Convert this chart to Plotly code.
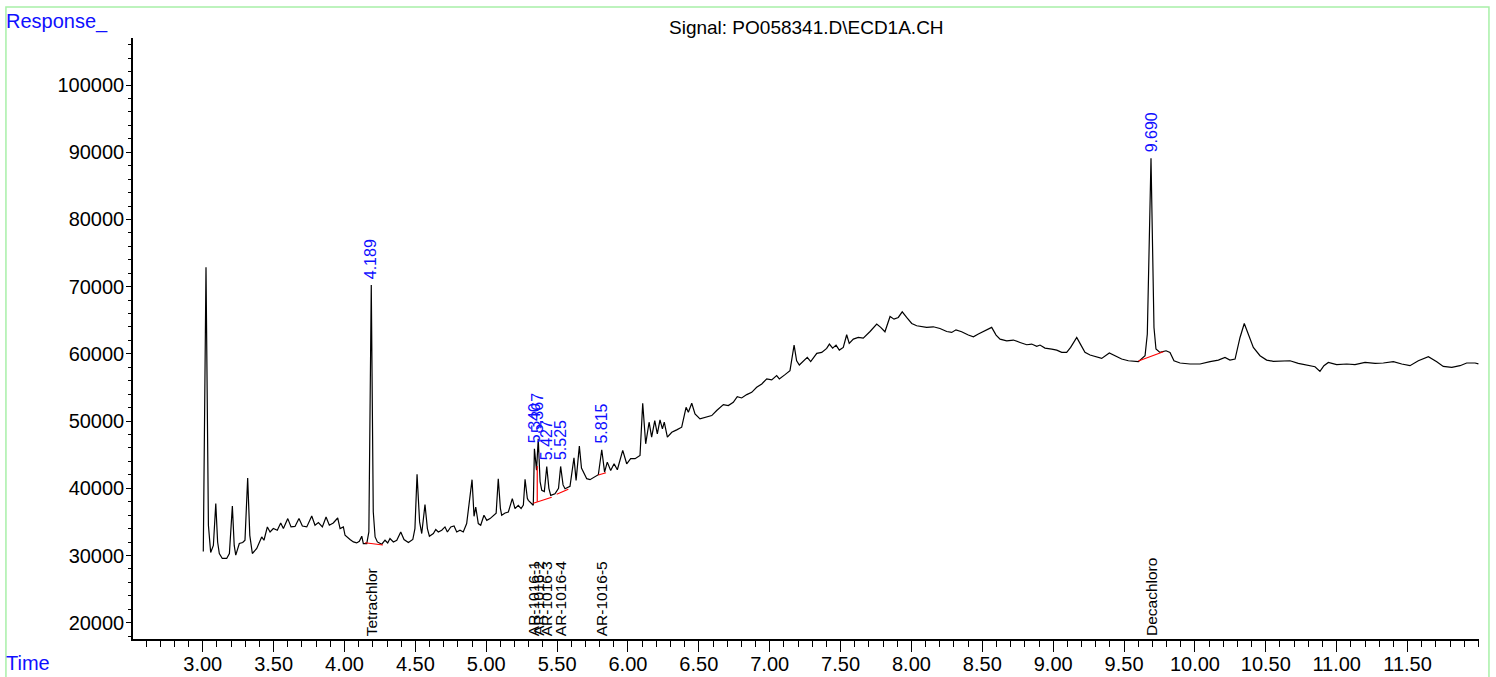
import plotly.graph_objects as go

# ---- data ----
time_min = [
    3.004, 3.023, 3.040, 3.056, 3.075, 3.092, 3.105, 3.117, 3.138, 3.169, 3.188, 3.209, 3.222, 3.233,
    3.258, 3.282, 3.298, 3.317, 3.332, 3.350, 3.381, 3.416, 3.432, 3.456, 3.475, 3.498, 3.526, 3.550,
    3.569, 3.600, 3.623, 3.651, 3.679, 3.703, 3.734, 3.769, 3.792, 3.816, 3.844, 3.870, 3.893, 3.921,
    3.952, 3.969, 3.992, 4.004, 4.039, 4.063, 4.086, 4.105, 4.122, 4.133, 4.157, 4.172, 4.189, 4.203,
    4.216, 4.232, 4.263, 4.286, 4.305, 4.321, 4.345, 4.369, 4.397, 4.420, 4.451, 4.482, 4.497, 4.512,
    4.530, 4.545, 4.568, 4.585, 4.599, 4.627, 4.644, 4.662, 4.686, 4.709, 4.726, 4.750, 4.773, 4.792,
    4.815, 4.838, 4.862, 4.900, 4.914, 4.926, 4.944, 4.961, 4.984, 5.004, 5.027, 5.050, 5.070, 5.085,
    5.100, 5.109, 5.133, 5.156, 5.184, 5.203, 5.226, 5.246, 5.262, 5.274, 5.290, 5.297, 5.332, 5.340,
    5.355, 5.367, 5.380, 5.392, 5.410, 5.427, 5.442, 5.455, 5.485, 5.510, 5.525, 5.542, 5.556, 5.591,
    5.619, 5.634, 5.657, 5.672, 5.685, 5.709, 5.732, 5.760, 5.791, 5.815, 5.835, 5.854, 5.878, 5.902,
    5.925, 5.963, 5.991, 6.019, 6.050, 6.085, 6.104, 6.125, 6.149, 6.167, 6.189, 6.207, 6.226, 6.243,
    6.256, 6.278, 6.309, 6.344, 6.379, 6.410, 6.426, 6.450, 6.473, 6.508, 6.556, 6.591, 6.626, 6.673,
    6.708, 6.743, 6.771, 6.802, 6.838, 6.873, 6.908, 6.944, 6.979, 7.014, 7.049, 7.068, 7.108, 7.143,
    7.172, 7.190, 7.209, 7.237, 7.265, 7.289, 7.332, 7.367, 7.402, 7.421, 7.444, 7.468, 7.491, 7.519,
    7.543, 7.561, 7.590, 7.625, 7.660, 7.708, 7.755, 7.783, 7.813, 7.849, 7.877, 7.907, 7.935, 7.966,
    8.002, 8.037, 8.072, 8.107, 8.154, 8.201, 8.249, 8.284, 8.314, 8.354, 8.401, 8.437, 8.472, 8.519,
    8.566, 8.597, 8.625, 8.672, 8.719, 8.766, 8.813, 8.848, 8.884, 8.907, 8.942, 8.990, 9.025, 9.060,
    9.095, 9.123, 9.166, 9.189, 9.224, 9.260, 9.307, 9.342, 9.396, 9.436, 9.483, 9.530, 9.601, 9.648,
    9.664, 9.690, 9.711, 9.725, 9.753, 9.796, 9.824, 9.852, 9.895, 9.965, 10.036, 10.107, 10.165, 10.212,
    10.247, 10.283, 10.318, 10.348, 10.376, 10.412, 10.459, 10.506, 10.553, 10.612, 10.671, 10.729,
    10.800, 10.847, 10.882, 10.910, 10.941, 11.000, 11.071, 11.129, 11.200, 11.271, 11.329, 11.400,
    11.459, 11.517, 11.576, 11.647, 11.706, 11.752, 11.812, 11.870, 11.917, 11.976, 12.000,
]
response = [
    30600, 72900, 34500, 30450, 31500, 37720, 32000, 30300, 29560, 29560, 30300, 37360, 31500, 30050,
    31780, 31930, 32270, 41520, 33000, 30300, 31040, 32760, 32270, 34250, 33500, 34010, 33760, 34840,
    34010, 35490, 34250, 34320, 35490, 34390, 34250, 35880, 34500, 34900, 34250, 35730, 34500, 34840,
    35580, 34010, 34250, 33010, 32380, 32020, 31870, 32120, 32870, 31780, 31780, 33500, 70250, 36500,
    32760, 32020, 31680, 32270, 31870, 32520, 32020, 32270, 33500, 32380, 31930, 32380, 34000, 42070,
    35000, 33270, 37570, 34000, 32870, 33270, 33860, 33500, 33760, 34250, 33500, 34250, 34390, 33500,
    33760, 33500, 34750, 41280, 35830, 37210, 34750, 34500, 35980, 35230, 35490, 35980, 36300, 41430,
    37000, 35980, 36320, 36470, 38460, 36980, 37470, 36980, 37500, 41330, 38500, 38210, 37470, 45880,
    42700, 47370, 41000, 39690, 39500, 43250, 40000, 38950, 39190, 40000, 43250, 40500, 39940, 40290,
    44540, 41180, 46270, 43000, 42410, 41430, 41280, 41670, 42020, 45730, 42410, 43890, 42660, 43650,
    42760, 45630, 43650, 44400, 44400, 44890, 52650, 46620, 49830, 47600, 50080, 48110, 50180, 48850,
    49830, 47600, 48340, 48690, 49090, 52050, 51310, 52650, 51070, 50330, 50580, 50820, 51570, 52460,
    52310, 52800, 53640, 53440, 53940, 54280, 55020, 55530, 56270, 56120, 56760, 56270, 56910, 57500,
    61310, 58980, 58350, 58860, 59480, 58860, 60070, 60210, 60810, 61460, 60860, 61310, 60560, 60960,
    62850, 61560, 62200, 62440, 62340, 63330, 64430, 63940, 63290, 65560, 65170, 65420, 66260, 65420,
    64520, 64180, 64030, 63940, 64030, 63780, 63330, 63190, 63580, 63290, 62800, 62550, 62950, 63440,
    63940, 62800, 62200, 61950, 62060, 61700, 61360, 61460, 61110, 61310, 60860, 60710, 60560, 60220,
    60220, 60960, 62440, 61560, 60220, 59830, 59580, 59330, 60130, 59730, 59240, 58980, 58840, 59730,
    62950, 89100, 63930, 60720, 60220, 60460, 60220, 58980, 58640, 58490, 58490, 58840, 59080, 59470,
    59080, 59230, 62440, 64520, 62950, 60960, 59730, 59080, 58880, 58880, 58980, 58590,
    58240, 58090, 57400, 58240, 58730, 58390, 58490, 58390, 58730, 58590, 58640, 58840,
    58490, 58240, 58980, 59580, 58840, 58140, 57990, 58240, 58640, 58640, 58500,
]

# integrated peaks: retention time label and apex response
peak_rt_labels = ["4.189", "5.340", "5.367", "5.427", "5.525", "5.815", "9.690"]
peak_rt = [4.189, 5.340, 5.367, 5.427, 5.525, 5.815, 9.690]
peak_apex = [70250, 45880, 47370, 43250, 43250, 45730, 89100]

# compound names at the bottom
compound_names = ["Tetrachlor", "AR-1016-1", "AR-1016-2", "AR-1016-3", "AR-1016-4", "AR-1016-5", "Decachloro"]
compound_rt = [4.189, 5.335, 5.367, 5.427, 5.525, 5.815, 9.690]

# red integration baselines (start time, start resp, end time, end resp)
baseline_t0 = [4.145, 5.332, 5.497, 5.791, 9.601, 5.360]
baseline_r0 = [31900, 37770, 39110, 41980, 58940, 38000]
baseline_t1 = [4.271, 5.462, 5.579, 5.845, 9.777, 5.360]
baseline_r1 = [31560, 38660, 39850, 42320, 60320, 43300]

x_ticks = [3.0 + 0.5 * i for i in range(18)]
x_tick_labels = [f"{v:.2f}" for v in x_ticks]
y_ticks = [20000, 30000, 40000, 50000, 60000, 70000, 80000, 90000, 100000]
y_tick_labels = [str(v) for v in y_ticks]

title_text = "Signal: PO058341.D\\ECD1A.CH"

FONT = "Liberation Sans, Arial, sans-serif"
BLUE = "#1010ff"

fig = go.Figure()

fig.add_trace(go.Scatter(x=time_min, y=response, mode="lines",
                         line=dict(color="black", width=1.2), hoverinfo="skip",
                         showlegend=False))

for t0, r0, t1, r1 in zip(baseline_t0, baseline_r0, baseline_t1, baseline_r1):
    fig.add_trace(go.Scatter(x=[t0, t1], y=[r0, r1], mode="lines",
                             line=dict(color="#ff0000", width=1.2), hoverinfo="skip",
                             showlegend=False))

annotations = []
for lab, t, r in zip(peak_rt_labels, peak_rt, peak_apex):
    annotations.append(dict(x=t, y=r, xref="x", yref="y", text=lab, textangle=-90,
                            showarrow=False, xanchor="center", yanchor="bottom", yshift=4,
                            font=dict(family=FONT, size=16, color=BLUE)))
for name, t in zip(compound_names, compound_rt):
    annotations.append(dict(x=t, y=0, xref="x", yref="paper", text=name, textangle=-90,
                            showarrow=False, xanchor="center", yanchor="bottom", yshift=1,
                            font=dict(family=FONT, size=15.5, color="black")))

annotations.append(dict(x=0.5, y=1.018, xref="paper", yref="paper", text=title_text,
                        showarrow=False, xanchor="center", yanchor="middle",
                        font=dict(family=FONT, size=19, color="black")))
annotations.append(dict(x=-0.0958, y=1.05, xref="paper", yref="paper", text="Response_",
                        showarrow=False, xanchor="left", yanchor="top",
                        font=dict(family=FONT, size=20, color=BLUE)))
annotations.append(dict(x=-0.0958, y=-0.062, xref="paper", yref="paper", text="Time",
                        showarrow=False, xanchor="left", yanchor="bottom",
                        font=dict(family=FONT, size=20, color=BLUE)))

fig.update_layout(
    width=1496, height=677, autosize=False,
    margin=dict(l=133, r=17, t=38, b=38),
    paper_bgcolor="white", plot_bgcolor="white",
    showlegend=False,
    annotations=annotations,
    shapes=[dict(type="rect", xref="paper", yref="paper",
                 x0=-0.0944, x1=1.0074, y0=-0.2, y1=1.0516,
                 line=dict(color="#a8f0a8", width=1.5), fillcolor="rgba(0,0,0,0)",
                 layer="below")],
    xaxis=dict(range=[2.508, 12.004], showgrid=False, zeroline=False, automargin=False,
               showline=True, linecolor="black", linewidth=1.5,
               ticks="outside", ticklen=11, tickwidth=1, tickcolor="black",
               ticklabelstandoff=-5,
               tickvals=x_ticks, ticktext=x_tick_labels,
               tickfont=dict(family=FONT, size=20, color="black"),
               minor=dict(dtick=0.1, tick0=0, ticks="outside", ticklen=6,
                          tickwidth=1, tickcolor="black", showgrid=False)),
    yaxis=dict(range=[17575, 107000], showgrid=False, zeroline=False, automargin=False,
               showline=True, linecolor="black", linewidth=1.5,
               ticks="outside", ticklen=5, tickwidth=1, tickcolor="black",
               ticklabelstandoff=-2,
               tickvals=y_ticks, ticktext=y_tick_labels,
               tickfont=dict(family=FONT, size=20, color="black"),
               minor=dict(dtick=2000, tick0=0, ticks="outside", ticklen=3,
                          tickwidth=1, tickcolor="black", showgrid=False)),
)

post_js = (
    "document.documentElement.style.margin='0';"
    "document.body.style.margin='0';"
    "document.body.style.padding='0';"
    "document.body.style.overflow='hidden';"
)

fig.write_html("out.html", config={"responsive": False, "displayModeBar": False},
               post_script=post_js)
